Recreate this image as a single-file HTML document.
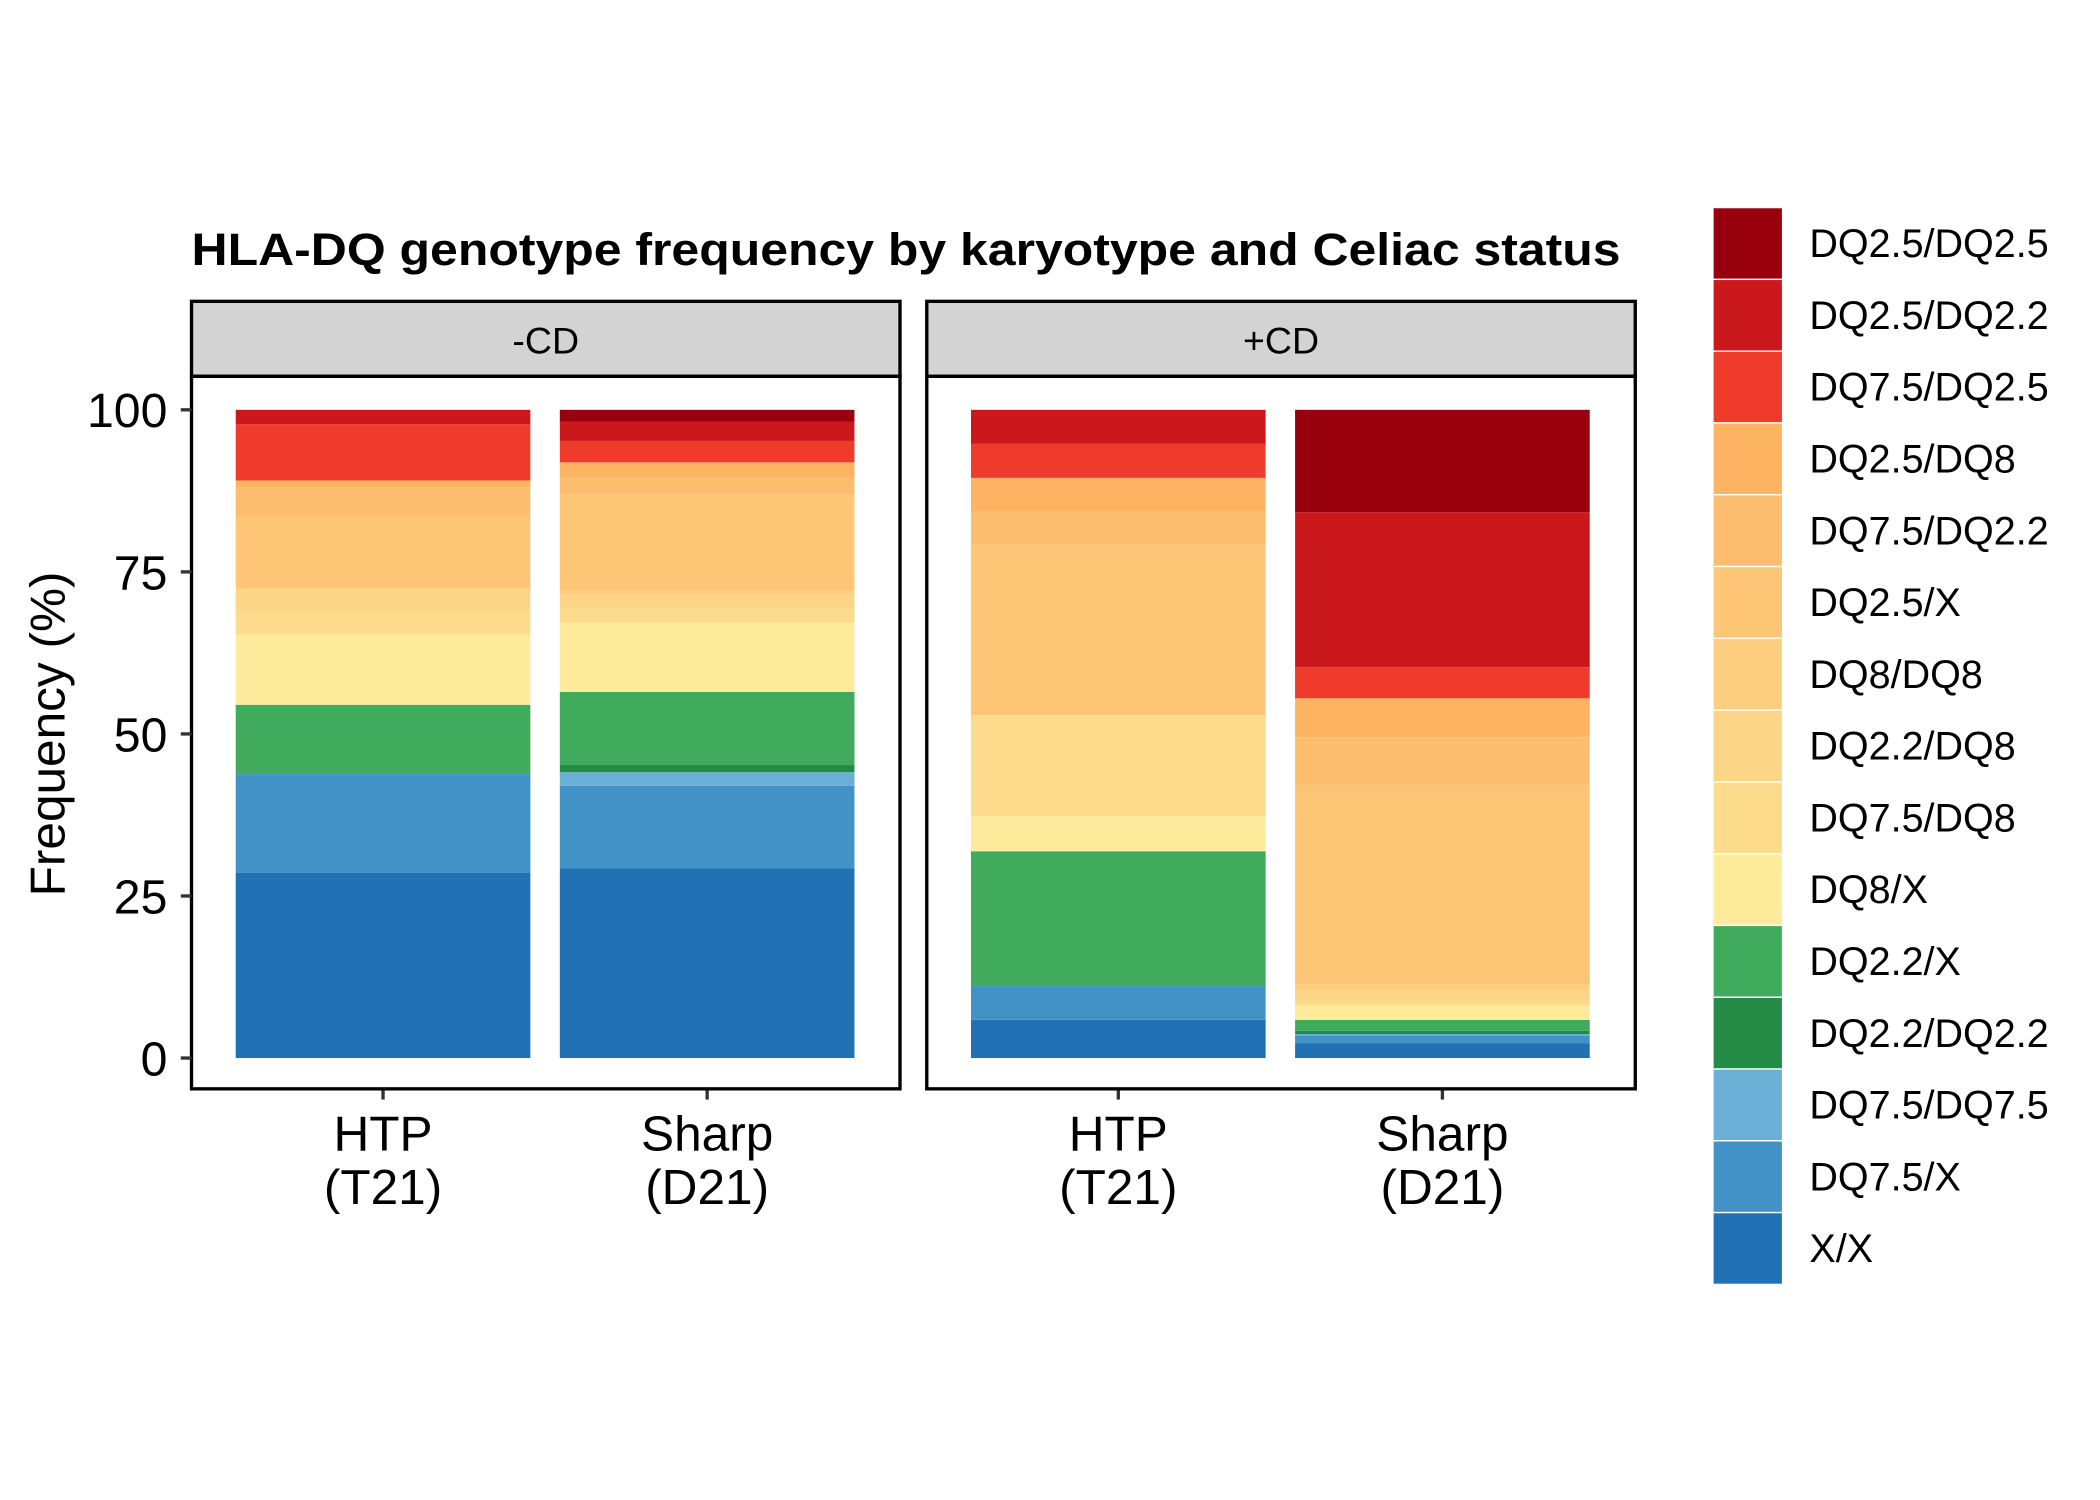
<!DOCTYPE html>
<html><head><meta charset="utf-8"><style>html,body{margin:0;padding:0;background:#fff}svg{display:block}text{font-family:"Liberation Sans",Arial,sans-serif}</style></head>
<body>
<svg id="chart" width="2100" height="1500" viewBox="0 0 1568 1120" preserveAspectRatio="none" xmlns="http://www.w3.org/2000/svg">
<rect width="1568" height="1120" fill="#fff"/>
<text x="143" y="198" font-size="34" font-weight="bold" textLength="1067" lengthAdjust="spacingAndGlyphs">HLA-DQ genotype frequency by karyotype and Celiac status</text>
<g id="plot"></g>
<g id="legend"></g>
</svg>
<script>
const genotypes=["DQ2.5/DQ2.5","DQ2.5/DQ2.2","DQ7.5/DQ2.5","DQ2.5/DQ8","DQ7.5/DQ2.2","DQ2.5/X","DQ8/DQ8","DQ2.2/DQ8","DQ7.5/DQ8","DQ8/X","DQ2.2/X","DQ2.2/DQ2.2","DQ7.5/DQ7.5","DQ7.5/X","X/X"];
const colors=["#99000d","#cb181d","#ef3b2c","#fdb462","#fdbd6e","#fdc676","#fdcd80","#fdd587","#fddb8c","#feeb9c","#41ab5d","#238b45","#6baed6","#4292c6","#2171b5"];
const panels=["-CD","+CD"];
const categories=["HTP\n(T21)","Sharp\n(D21)"];
// values per bar in genotype order: [-CD HTP, -CD Sharp, +CD HTP, +CD Sharp]
const s_DQ25_DQ25=[0,1.8,0,15.8];
const s_DQ25_DQ22=[2.2,3.0,5.2,23.9];
const s_DQ75_DQ25=[8.7,3.3,5.3,4.8];
const s_DQ25_DQ8=[1.0,2.4,5.2,6.0];
const s_DQ75_DQ22=[4.4,2.5,5.1,7.5];
const s_DQ25_X=[11.3,14.9,26.3,30.7];
const s_DQ8_DQ8=[0,0.7,0,0.8];
const s_DQ22_DQ8=[3.2,2.1,0,1.8];
const s_DQ75_DQ8=[3.9,2.1,15.6,0.6];
const s_DQ8_X=[10.8,10.7,5.4,2.2];
const s_DQ22_X=[10.7,11.3,20.8,1.7];
const s_DQ22_DQ22=[0,1.1,0,0.5];
const s_DQ75_DQ75=[0,2.1,0,0.3];
const s_DQ75_X=[15.2,12.7,5.2,1.1];
const s_X_X=[28.6,29.3,5.9,2.3];
const yTicks=[0,25,50,75,100];

const series=[s_DQ25_DQ25,s_DQ25_DQ22,s_DQ75_DQ25,s_DQ25_DQ8,s_DQ75_DQ22,s_DQ25_X,s_DQ8_DQ8,s_DQ22_DQ8,s_DQ75_DQ8,s_DQ8_X,s_DQ22_X,s_DQ22_DQ22,s_DQ75_DQ75,s_DQ75_X,s_X_X];
const NS="http://www.w3.org/2000/svg";
const plot=document.getElementById('plot');
function mk(tag,attrs,parent,text){const e=document.createElementNS(NS,tag);for(const k in attrs)e.setAttribute(k,attrs[k]);if(text!==undefined)e.textContent=text;(parent||plot).appendChild(e);return e;}
const y=v=>790-v*4.84;
const panelX=[143,692],panelW=529,barW=220;
const barOffsets=[33,275];
panels.forEach((p,pi)=>{
  const px=panelX[pi];
  const strip=mk('rect',{x:px,y:225,width:panelW,height:56,fill:'#d3d3d3',stroke:'#000','stroke-width':2.5});
  
  
  const st=mk('text',{x:px+panelW/2,y:264,'font-size':28,'text-anchor':'middle'},plot,p);
  
  
  categories.forEach((c,ci)=>{
    const bi=pi*2+ci;
    const bx=px+barOffsets[ci];
    let cum=0;
    for(let si=series.length-1;si>=0;si--){
      const v=series[si][bi];
      if(v>0){
        const r=mk('rect',{x:bx,y:y(cum+v),width:barW,height:y(cum)-y(cum+v),fill:colors[si]});
        
        
      }
      cum+=v;
    }
    const cx=bx+barW/2;
    mk('line',{x1:cx,x2:cx,y1:813,y2:821,stroke:'#333','stroke-width':2.5});
    const lines=c.split('\n');
    lines.forEach((ln,li)=>{
      const t=mk('text',{x:cx,y:859+li*40,'font-size':37,'text-anchor':'middle'},plot,ln);
      
      
    });
  });
  const fr=mk('rect',{x:px,y:281,width:panelW,height:532,fill:'none',stroke:'#000','stroke-width':2.5});
  
  
});
yTicks.forEach(t=>{
  mk('line',{x1:135,x2:143,y1:y(t),y2:y(t),stroke:'#333','stroke-width':2.5});
  const tl=mk('text',{x:125,y:y(t)+13,'font-size':36,'text-anchor':'end'},plot,String(t));
  
  
});
const yt=mk('text',{x:0,y:0,'font-size':37,'text-anchor':'middle',transform:'translate(48,548) rotate(-90)'},plot,'Frequency (%)');


const lg=document.getElementById('legend');
genotypes.forEach((g,i)=>{
  const ky=155+i*53.6;
  const k=mk('rect',{x:1279,y:ky,width:52,height:53.6,fill:colors[i],stroke:'#fff','stroke-width':1},lg);
  
  
  const t=mk('text',{x:1351,y:ky+37,'font-size':29.5},lg,g);
  
  
});
</script>
</body></html>
